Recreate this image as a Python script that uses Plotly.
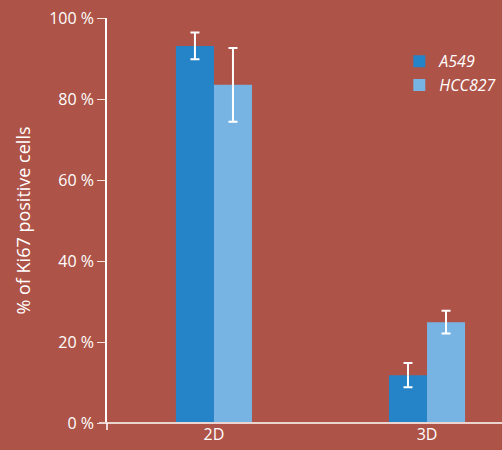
import plotly.graph_objects as go

categories = ["2D", "3D"]
a549 = [93.1, 11.8]
a549_err = [3.3, 3.0]
hcc827 = [83.5, 24.9]
hcc827_err = [9.1, 2.8]
y_ticks = [0, 20, 40, 60, 80, 100]
y_tick_labels = ["0 %", "20 %", "40 %", "60 %", "80 %", "100 %"]

BG = "#AE5347"
FONT = "Open Sans"

fig = go.Figure()
fig.add_trace(go.Bar(
    x=categories, y=a549, name="A549", marker_color="#2584C8", marker_line_width=0,
    error_y=dict(type="data", array=a549_err, color="white", thickness=2, width=4.5),
))
fig.add_trace(go.Bar(
    x=categories, y=hcc827, name="HCC827", marker_color="#78B4E3", marker_line_width=0,
    error_y=dict(type="data", array=hcc827_err, color="white", thickness=2, width=4.5),
))

fig.update_layout(
    width=502, height=450,
    paper_bgcolor=BG, plot_bgcolor=BG,
    margin=dict(l=107, r=0, t=18, b=27),
    barmode="group", bargap=0.643, bargroupgap=0,
    font=dict(family=FONT, color="white", size=16),
    showlegend=True,
    legend=dict(
        x=0.74, y=0.935, xanchor="left", yanchor="top",
        bgcolor="rgba(0,0,0,0)",
        font=dict(family=FONT, size=16, color="white", style="italic"),
        itemsizing="constant", tracegroupgap=2, itemwidth=30,
    ),
    xaxis=dict(
        range=[-0.502, 1.352], showgrid=False, zeroline=False,
        showline=False, ticks="", tickfont=dict(size=16),
    ),
    yaxis=dict(
        range=[0, 100], tickvals=y_ticks, ticktext=y_tick_labels,
        showgrid=False, zeroline=False,
        showline=True, linecolor="white", linewidth=1.5,
        ticks="outside", ticklen=8, tickcolor="#F3E2DF", tickwidth=1.2,
        tickfont=dict(size=16),
        title=dict(text="% of Ki67 positive cells", font=dict(size=18), standoff=14),
    ),
    shapes=[
        dict(type="line", xref="paper", yref="paper", x0=-8/395, x1=1, y0=0, y1=0,
             line=dict(color="#EBD3CF", width=2)),
        dict(type="line", xref="paper", yref="paper", x0=0, x1=0, y0=0, y1=-7/405,
             line=dict(color="white", width=1.5)),
    ],
)

fig.write_html("out.html", config={"displayModeBar": False},
               post_script="document.body.style.margin='0';")
